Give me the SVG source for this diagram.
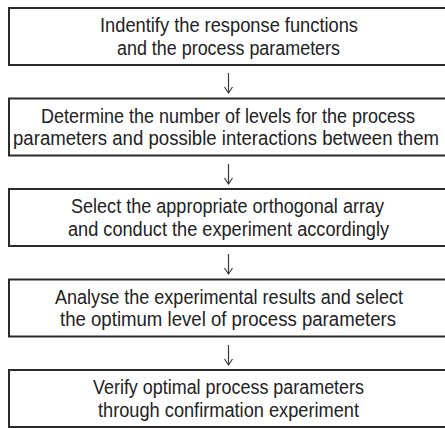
<svg xmlns="http://www.w3.org/2000/svg" width="445" height="428" viewBox="0 0 445 428">
<style>
.box{fill:#fff;stroke:#2b2b2b;stroke-width:2}
.t{font-family:"Liberation Sans",Arial,sans-serif;font-size:20px;fill:#222;text-anchor:middle}
.c{stroke:#3a3a3a;stroke-width:1.2;fill:none}
</style>
<defs>
<marker id="ah" markerWidth="10" markerHeight="10" refX="8" refY="5" orient="auto" markerUnits="userSpaceOnUse" viewBox="0 0 10 10">
<path d="M2,1 L8,5 L2,9" fill="none" stroke="#3a3a3a" stroke-width="1.2"/>
</marker>
</defs>
<rect width="445" height="428" fill="#fff"/>
<g id="n1"><rect class="box" x="9" y="8" width="438" height="57"/>
<text class="t" x="229" y="32" textLength="258" lengthAdjust="spacingAndGlyphs">Indentify the response functions</text>
<text class="t" x="228.5" y="54.5" textLength="223" lengthAdjust="spacingAndGlyphs">and the process parameters</text></g>
<g id="n2"><rect class="box" x="9" y="98.5" width="438" height="57"/>
<text class="t" x="228" y="122.5" textLength="374" lengthAdjust="spacingAndGlyphs">Determine the number of levels for the process</text>
<text class="t" x="226" y="145" textLength="426" lengthAdjust="spacingAndGlyphs">parameters and possible interactions between them</text></g>
<g id="n3"><rect class="box" x="9" y="189" width="438" height="57"/>
<text class="t" x="227.5" y="213" textLength="313" lengthAdjust="spacingAndGlyphs">Select the appropriate orthogonal array</text>
<text class="t" x="228.5" y="235.5" textLength="321" lengthAdjust="spacingAndGlyphs">and conduct the experiment accordingly</text></g>
<g id="n4"><rect class="box" x="9" y="279.5" width="438" height="57"/>
<text class="t" x="229" y="303.5" textLength="348" lengthAdjust="spacingAndGlyphs">Analyse the experimental results and select</text>
<text class="t" x="228" y="326" textLength="336" lengthAdjust="spacingAndGlyphs">the optimum level of process parameters</text></g>
<g id="n5"><rect class="box" x="9" y="370" width="438" height="57"/>
<text class="t" x="228.5" y="394" textLength="271" lengthAdjust="spacingAndGlyphs">Verify optimal process parameters</text>
<text class="t" x="228.5" y="416.5" textLength="261" lengthAdjust="spacingAndGlyphs">through confirmation experiment</text></g>
<g id="connectors">
<path class="c" d="M228.5,73 V93" marker-end="url(#ah)"/>
<path class="c" d="M228.5,164 V184" marker-end="url(#ah)"/>
<path class="c" d="M228.5,254 V274" marker-end="url(#ah)"/>
<path class="c" d="M228.5,345 V365" marker-end="url(#ah)"/>
</g>
</svg>
